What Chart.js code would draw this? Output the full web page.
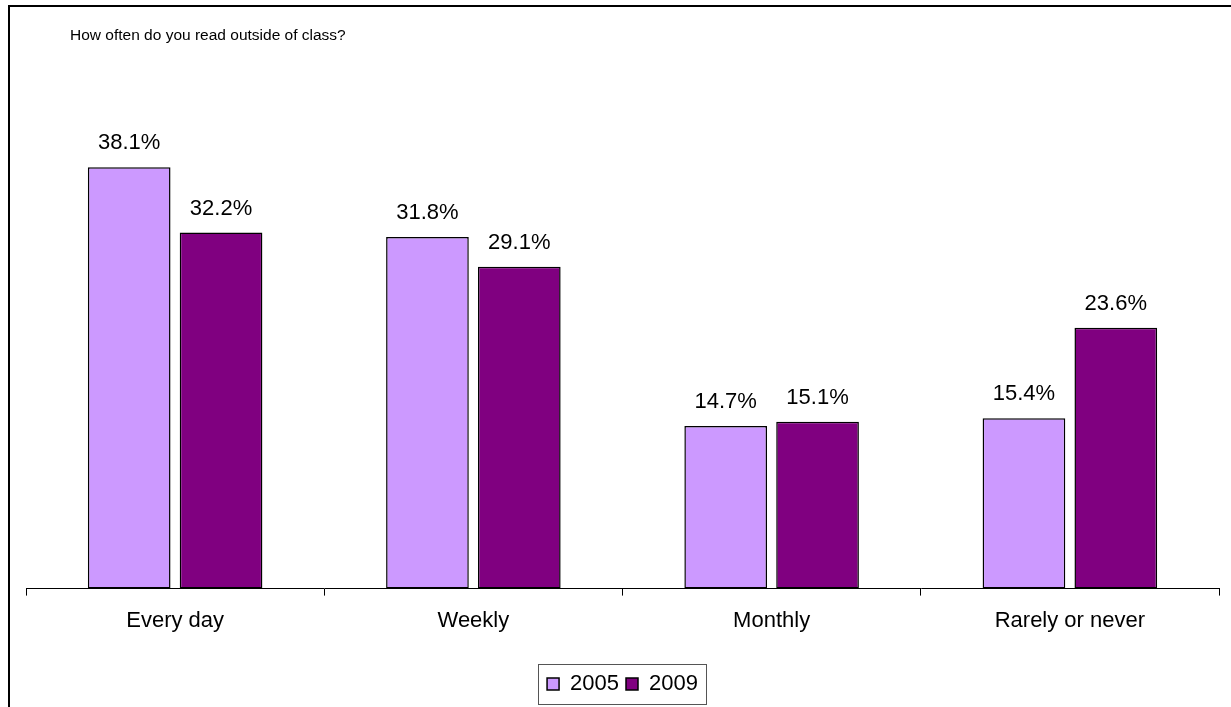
<!DOCTYPE html>
<html lang="en">
<head>
    <meta charset="UTF-8">
    <title>How often do you read outside of class?</title>
    <style>
        html, body { margin: 0; padding: 0; background: #fff; }
        #wrap { width: 1231px; height: 707px; position: relative; }
    </style>
</head>
<body>
    <div id="wrap"><canvas id="readChart" width="1231" height="707"></canvas></div>

    <script src="https://cdn.jsdelivr.net/npm/chart.js"></script>
    <script>
        const categories = ['Every day', 'Weekly', 'Monthly', 'Rarely or never'];
        const seriesNames = ['2005', '2009'];
        const values2005 = [38.1, 31.8, 14.7, 15.4];
        const values2009 = [32.2, 29.1, 15.1, 23.6];
        const titleText = 'How often do you read outside of class?';

        const fontFamily = '"Liberation Sans", Arial, sans-serif';

        // outer frame, title, value labels and the legend frame
        const decorations = {
            id: 'decorations',
            beforeDraw(chart) {
                const c = chart.ctx;
                c.save();
                c.strokeStyle = '#000';
                c.lineWidth = 2;
                c.strokeRect(9, 6, chart.width + 20, chart.height + 20);
                c.fillStyle = '#000';
                c.font = '15.5px ' + fontFamily;
                c.textBaseline = 'alphabetic';
                c.textAlign = 'left';
                c.fillText(titleText, 70, 40);
                c.restore();
            },
            afterDatasetsDraw(chart) {
                const c = chart.ctx;
                c.save();
                c.fillStyle = '#000';
                c.font = '22px ' + fontFamily;
                c.textAlign = 'center';
                c.textBaseline = 'alphabetic';
                chart.data.datasets.forEach((ds, i) => {
                    chart.getDatasetMeta(i).data.forEach((bar, j) => {
                        c.fillText(ds.data[j].toFixed(1) + '%', bar.x, bar.y - 18);
                    });
                });
                c.restore();
            },
            afterDraw(chart) {
                const boxes = chart.legend.legendHitBoxes;
                if (!boxes || !boxes.length) return;
                const left = Math.min(...boxes.map(b => b.left));
                const right = Math.max(...boxes.map(b => b.left + b.width));
                const mid = boxes[0].top + boxes[0].height / 2;
                const c = chart.ctx;
                c.save();
                c.strokeStyle = '#555';
                c.lineWidth = 1;
                c.strokeRect(Math.round(left - 9) + 0.5, Math.round(mid - 20) + 0.5, Math.round(right - left + 17), 40);
                c.restore();
            }
        };

        const ctx = document.getElementById('readChart').getContext('2d');
        new Chart(ctx, {
            type: 'bar',
            data: {
                labels: categories,
                datasets: [
                    {
                        label: seriesNames[0],
                        data: values2005,
                        backgroundColor: '#CC99FF',
                        borderColor: '#000',
                        borderWidth: 1.5,
                        borderSkipped: false
                    },
                    {
                        label: seriesNames[1],
                        data: values2009,
                        backgroundColor: '#800080',
                        borderColor: '#000',
                        borderWidth: 1.5,
                        borderSkipped: false
                    }
                ]
            },
            options: {
                responsive: false,
                animation: false,
                categoryPercentage: 0.616,
                barPercentage: 0.9,
                layout: { padding: { top: 91, left: 26, right: 12, bottom: 2 } },
                plugins: {
                    tooltip: { enabled: false },
                    title: { display: false },
                    legend: {
                        position: 'bottom',
                        labels: {
                            color: '#000',
                            boxWidth: 12,
                            boxHeight: 12,
                            padding: 7,
                            font: { size: 22, family: fontFamily }
                        }
                    }
                },
                scales: {
                    x: {
                        offset: true,
                        afterFit(scale) { scale.height += 20; },
                        grid: {
                            display: true,
                            offset: true,
                            drawOnChartArea: false,
                            drawTicks: true,
                            tickLength: 7,
                            color: '#000'
                        },
                        border: { display: true, color: '#000', width: 1 },
                        ticks: {
                            color: '#000',
                            padding: 12,
                            font: { size: 22, family: fontFamily }
                        }
                    },
                    y: {
                        display: false,
                        min: 0,
                        max: 45
                    }
                }
            },
            plugins: [decorations]
        });
    </script>
</body>
</html>
